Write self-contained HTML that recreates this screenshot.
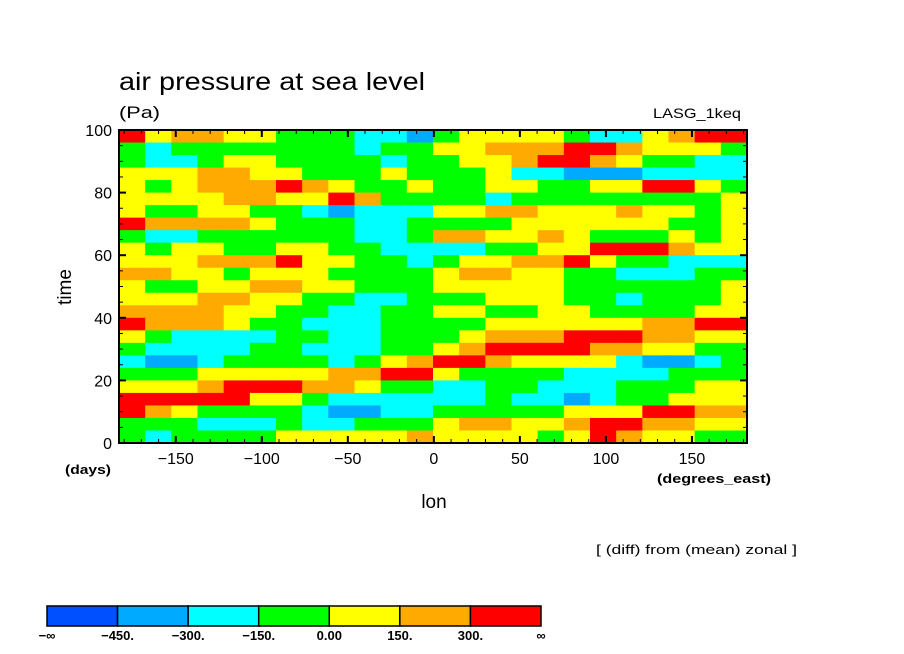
<!DOCTYPE html>
<html><head><meta charset="utf-8"><style>
html,body{margin:0;padding:0;background:#fff;}
svg{display:block;font-family:"Liberation Sans",sans-serif;}
</style></head><body>
<svg id="chart" width="904" height="654" viewBox="0 0 904 654">
<text x="119" y="90" font-size="25" textLength="306" lengthAdjust="spacingAndGlyphs">air pressure at sea level</text>
<text x="119" y="118" font-size="17" textLength="41" lengthAdjust="spacingAndGlyphs">(Pa)</text>
<text x="653" y="118" font-size="14" textLength="88" lengthAdjust="spacingAndGlyphs">LASG_1keq</text>
<g id="cells"></g>
<g id="axes"></g>
<text x="65" y="474" font-size="13" font-weight="bold" textLength="46" lengthAdjust="spacingAndGlyphs">(days)</text>
<text x="657" y="483" font-size="13" font-weight="bold" textLength="114" lengthAdjust="spacingAndGlyphs">(degrees_east)</text>
<text x="434" y="508" font-size="19" text-anchor="middle">lon</text>
<text x="0" y="0" font-size="19" text-anchor="middle" transform="translate(71,287) rotate(-90)">time</text>
<text x="596" y="554" font-size="13" textLength="201" lengthAdjust="spacingAndGlyphs">[ (diff) from (mean) zonal ]</text>
<g id="legend"></g>
</svg>
<script>
const NS="http://www.w3.org/2000/svg";
// class index per cell (0..6) -> bins of legend; rows from time=100 (top) to time=0 (bottom); columns lon -180..180 in 15-degree steps
const rows=[
"645544333221"+"344443224566",
"323333333233"+"445556654443",
"322344333323"+"344566543322",
"444554433343"+"334221112222",
"434555654334"+"334433446643",
"444455446533"+"332333333334",
"433443321222"+"445544454434",
"655554333223"+"333444444334",
"322333333223"+"554454333434",
"434433443322"+"223344666544",
"444555644332"+"344556433222",
"554434443333"+"455443322233",
"433445544333"+"444443333334",
"444554433223"+"334443323334",
"555544332233"+"443344333344",
"655543322233"+"334444445566",
"432222332233"+"345556665544",
"322223322233"+"456666554433",
"211233332345"+"665444421123",
"333444445566"+"433332222333",
"444566655433"+"223322233344",
"666664432222"+"223221233444",
"654333321122"+"333334446655",
"333222322333"+"455445665544",
"323333444445"+"444434654433"
];
const binColors=["#0050ff","#00aaff","#00ffff","#00ff00","#ffff00","#ffaa00","#ff0000"];
const binLabels=["\u2212\u221e","\u2212450.","\u2212300.","\u2212150.","0.00","150.","300.","\u221e"];
const xTicks=[-150,-100,-50,0,50,100,150];
const yTicks=[0,20,40,60,80,100];
const lonMin=-183,lonMax=182,tMin=0,tMax=100;
const X0=119,X1=747,Y0=443,Y1=130;
const xs=v=>X0+(v-lonMin)/(lonMax-lonMin)*(X1-X0);
const ys=v=>Y0-(v-tMin)/(tMax-tMin)*(Y0-Y1);
const cells=document.getElementById('cells');
const nR=rows.length,nC=rows[0].length;
for(let r=0;r<nR;r++){for(let c=0;c<nC;c++){
 const k=+rows[r][c];
 const rc=document.createElementNS(NS,'rect');
 const tTop=tMax-r*(tMax-tMin)/nR, tBot=tMax-(r+1)*(tMax-tMin)/nR;
 const la=lonMin+c*(lonMax-lonMin)/nC, lb=lonMin+(c+1)*(lonMax-lonMin)/nC;
 rc.setAttribute('x',xs(la));rc.setAttribute('y',ys(tTop));
 rc.setAttribute('width',xs(lb)-xs(la)+0.5);rc.setAttribute('height',ys(tBot)-ys(tTop)+0.5);
 rc.setAttribute('fill',binColors[k]);
 
 
 cells.appendChild(rc);
}}
const ax=document.getElementById('axes');
function ln(x1,y1,x2,y2,w){const l=document.createElementNS(NS,'line');l.setAttribute('x1',x1);l.setAttribute('y1',y1);l.setAttribute('x2',x2);l.setAttribute('y2',y2);l.setAttribute('stroke','#000');l.setAttribute('stroke-width',w);ax.appendChild(l);return l;}
const fr=document.createElementNS(NS,'rect');
fr.setAttribute('x',X0);fr.setAttribute('y',Y1);fr.setAttribute('width',X1-X0);fr.setAttribute('height',Y0-Y1);
fr.setAttribute('fill','none');fr.setAttribute('stroke','#000');fr.setAttribute('stroke-width','2');


ax.appendChild(fr);
for(let v=-180;v<=180;v+=10){const x=xs(v);const major=v%50===0;const L=major?7:4;ln(x,Y0,x,Y0-L,major?2:1);ln(x,Y1,x,Y1+L,major?2:1);}
for(let v=0;v<=100;v+=5){const y=ys(v);const major=v%20===0;const L=major?7:4;ln(X0,y,X0+L,y,major?2:1);ln(X1,y,X1-L,y,major?2:1);}
xTicks.forEach(v=>{const t=document.createElementNS(NS,'text');t.setAttribute('x',xs(v));t.setAttribute('y',Y0+21);t.setAttribute('font-size','16');t.setAttribute('text-anchor','middle');t.textContent=(v<0?'\u2212'+(-v):v);


ax.appendChild(t);});
yTicks.forEach(v=>{const t=document.createElementNS(NS,'text');t.setAttribute('x',X0-7);t.setAttribute('y',ys(v)+6);t.setAttribute('font-size','16');t.setAttribute('text-anchor','end');t.textContent=v;


ax.appendChild(t);});
const lg=document.getElementById('legend');
const LX0=47,LX1=541,LY=606,LH=20,bw=(LX1-LX0)/binColors.length;
binColors.forEach((c,i)=>{const r=document.createElementNS(NS,'rect');r.setAttribute('x',LX0+i*bw);r.setAttribute('y',LY);r.setAttribute('width',bw);r.setAttribute('height',LH);r.setAttribute('fill',c);r.setAttribute('stroke','#000');r.setAttribute('stroke-width','1.5');


lg.appendChild(r);});
binLabels.forEach((s,i)=>{const t=document.createElementNS(NS,'text');t.setAttribute('x',LX0+i*bw);t.setAttribute('y',640);t.setAttribute('font-size','13');t.setAttribute('font-weight','bold');t.setAttribute('text-anchor','middle');t.textContent=s;


lg.appendChild(t);});
</script>
</body></html>
